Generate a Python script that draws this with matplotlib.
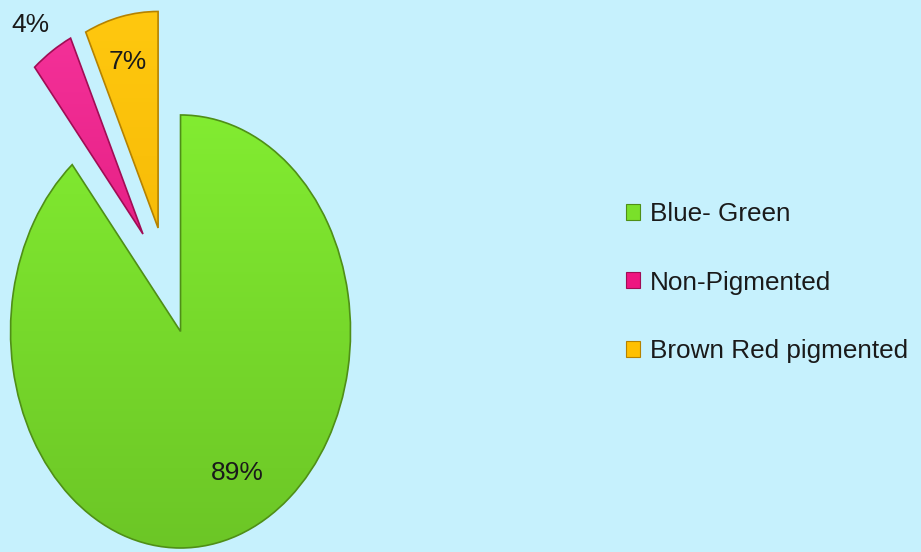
import matplotlib
matplotlib.use("Agg")
import matplotlib.pyplot as plt
from matplotlib.colors import LinearSegmentedColormap
from matplotlib.patches import Wedge
import numpy as np

categories = ["Blue- Green", "Non-Pigmented", "Brown Red pigmented"]
values = [89, 4, 7]
pct_labels = ["89%", "4%", "7%"]

colors = ["#7AE02A", "#EE1580", "#FFC000"]
edges = ["#4F8F17", "#A00D55", "#B58200"]
grad_top = ["#82EC31", "#F5329A", "#FFC80F"]
grad_bot = ["#6CC626", "#D80F72", "#F0B000"]
bg = "#C6F1FD"

plt.rcParams['font.family'] = ['Liberation Sans', 'DejaVu Sans']

fig = plt.figure(figsize=(9.21, 5.52), dpi=100, facecolor=bg)
ax = fig.add_axes([0, 0, 1, 1])
ax.set_facecolor(bg)
ax.axis('off')

wedges, _ = ax.pie(values, startangle=90, counterclock=False,
                   explode=[0, 0.5, 0.5], colors=colors,
                   wedgeprops=dict(linewidth=0))

# fine-tune exploded offsets to match reference layout
offsets = [(0.0, 0.0), (-0.221, 0.450), (-0.132, 0.478)]
for w, off in zip(wedges, offsets):
    w.set_center(off)

for i, w in enumerate(wedges):
    cmap = LinearSegmentedColormap.from_list("g%d" % i, [grad_bot[i], grad_top[i]])
    cx, cy = w.center
    grad = np.linspace(0, 1, 256).reshape(-1, 1)
    im = ax.imshow(grad, extent=[cx - 1, cx + 1, cy - 1, cy + 1], origin='lower',
                   cmap=cmap, aspect='auto', zorder=2)
    im.set_clip_path(w)
    outline = Wedge(w.center, w.r, w.theta1, w.theta2, facecolor='none',
                    edgecolor=edges[i], linewidth=1.2, zorder=3)
    ax.add_patch(outline)

ax.set_aspect('auto')
ax.set_xlim(-1.062, 4.356)
ax.set_ylim(-1.0185, 1.531)

# percentage labels
label_pos = [(0.332, -0.654), (-0.885, 1.416), (-0.309, 1.245)]
for txt, (x, y) in zip(pct_labels, label_pos):
    ax.text(x, y, txt, ha='center', va='center', fontsize=19, color='#1a1a1a', zorder=5)

leg = ax.legend(wedges, categories, loc='center left',
                bbox_to_anchor=(0.6797, 0.4882), bbox_transform=fig.transFigure,
                frameon=False, fontsize=18.8, labelspacing=1.7, borderpad=0,
                borderaxespad=0, handlelength=0.55, handleheight=0.55,
                handletextpad=0.35)
for t in leg.get_texts():
    t.set_color('#1a1a1a')
for h, ec in zip(leg.legend_handles, edges):
    h.set_edgecolor(ec)
    h.set_linewidth(0.8)

fig.savefig("out.png", dpi=100, facecolor=bg)
